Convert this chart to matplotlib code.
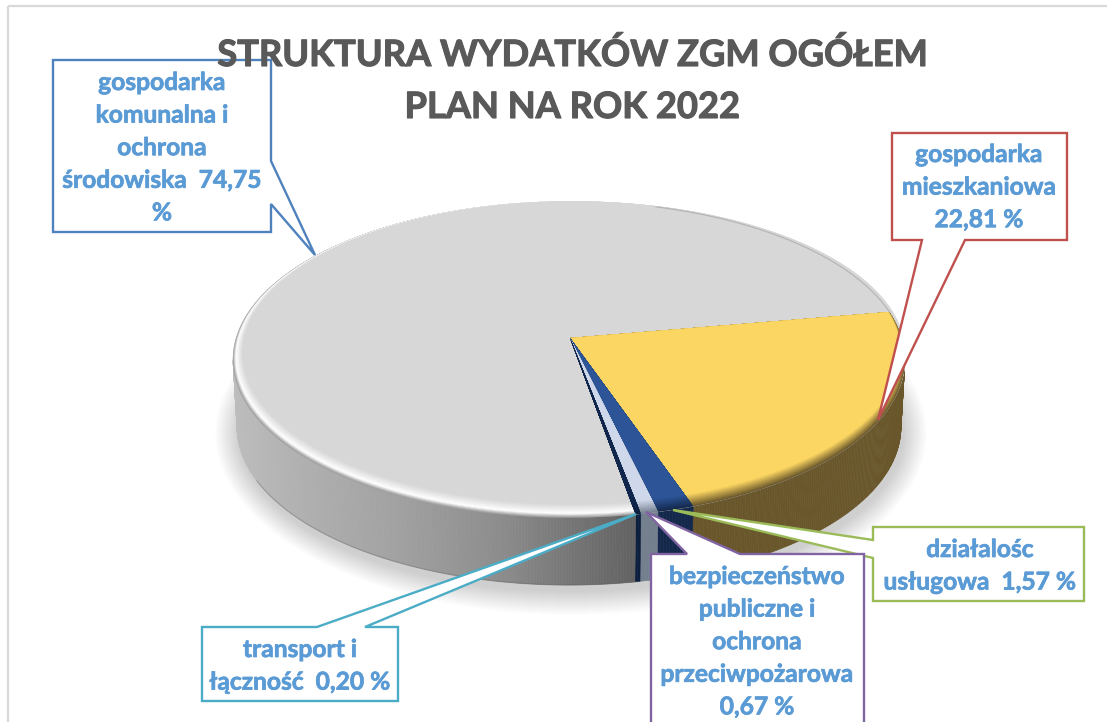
import numpy as np
import matplotlib
matplotlib.use("Agg")
import matplotlib.pyplot as plt
import matplotlib.patheffects as pe
from matplotlib.patches import Polygon, Ellipse
from matplotlib.colors import to_rgb

# ---------- data ----------
categories = ["gospodarka mieszkaniowa", "działalośc usługowa",
              "bezpieczeństwo publiczne i ochrona przeciwpożarowa",
              "transport i łączność", "gospodarka komunalna i ochrona środowiska"]
values = [22.81, 1.57, 0.67, 0.20, 74.75]
title_lines = ["STRUKTURA WYDATKÓW ZGM OGÓŁEM", "PLAN NA ROK 2022"]
label_lines = [
    ["gospodarka", "mieszkaniowa", "22,81 %"],
    ["działalośc", "usługowa  1,57 %"],
    ["bezpieczeństwo", "publiczne i", "ochrona", "przeciwpożarowa", "0,67 %"],
    ["transport i", "łączność  0,20 %"],
    ["gospodarka", "komunalna i", "ochrona", "środowiska  74,75", "%"],
]

# ---------- style / layout ----------
W, H = 1107, 722
FONT = "Lato"
TEXT_BLUE = "#5b9bd5"
CX, CY, A, B = 569, 359.5, 336, 158       # top ellipse
BCX, BCY, BA, BB = 569, 427, 332, 158     # bottom ellipse
APEX = (570, 338)
START = 17.5                               # first slice edge, degrees
persp = [1.045, 1.12, 1.25, 1.25, 1.0]     # sweep stretch from perspective
top_col = ["#fbd663", "#2c5496", "#cfd8ea", "#10264d", "#d7d7d7"]
side_col = ["#69562a", "#14284c", "#747f8e", "#0c1f3f", None]
BOX = [  # x0, x1, y0, y1, colour, text centre x, first line centre y
    (892, 1067, 133, 240, "#c0504d", 979, 155),
    (873, 1084, 527, 601, "#9bbb59", 980, 550),
    (651, 864, 554, 740, "#8064a2", 757, 577),
    (202, 398, 627, 701, "#4bacc6", 300, 650),
    (53, 271, 60, 232, "#4f81bd", 162, 83),
]
PTR = [  # pointer root 1, tip, root 2, clockwise along the box outline
    ((965, 240), (878, 420), (922, 240)),
    ((873, 558), (673, 510), (873, 540)),
    ((687, 554), (646, 512), (740, 554)),
    ((317, 627), (636, 514), (365, 627)),
    ((271, 161), (315, 255), (271, 204)),
]
EDGE = ["bottom", "left", "top", "top", "right"]

fig = plt.figure(figsize=(W / 100, H / 100), dpi=100, facecolor="white")
ax = fig.add_axes([0, 0, 1, 1])
ax.set_xlim(0, W)
ax.set_ylim(H, 0)
ax.axis("off")


def mix(c1, c2, f):
    c1, c2 = np.array(to_rgb(c1)), np.array(to_rgb(c2))
    return tuple(c1 + (c2 - c1) * f)


def arc(t0, t1, cx=CX, cy=CY, a=A, b=B, n=200):
    t = np.radians(np.linspace(t0, t1, n))
    return np.column_stack([cx + a * np.cos(t), cy - b * np.sin(t)])


def grey_side(x):
    v = np.interp(x, [233, 300, 400, 500, 630], [0.74, 0.69, 0.63, 0.55, 0.39])
    return (v, v, v)


# slice angles
sweeps = [v * 3.6 * p for v, p in zip(values, persp)]
edges = [START]
for s in sweeps[:-1]:
    edges.append(edges[-1] - s)
edges.append(START - 360)
spans = [(edges[i], edges[i + 1]) for i in range(len(values))]

# frame
ax.plot([8, 8], [H, 6], color="#d9d9d9", lw=1.6, zorder=0, solid_capstyle="butt")
ax.plot([8, W], [6, 6], color="#d9d9d9", lw=1.6, zorder=0, solid_capstyle="butt")

# soft shadow
for i in range(24):
    g = 24 - i
    ax.add_patch(Ellipse((BCX + 2, BCY + 6), 2 * (BA + g), 2 * (BB + g), fc="k", ec="none",
                         alpha=0.007, zorder=1))

# side wall
for i, (t0, t1) in enumerate(spans):
    lo, hi = max(t1, -180), min(t0, 0)
    if lo >= hi:
        continue
    steps = max(2, int((hi - lo) / 0.5))
    ts = np.linspace(hi, lo, steps + 1)
    for u, v in zip(ts[:-1], ts[1:]):
        tp = arc(u, v, n=3)
        bt = arc(v, u, BCX, BCY, BA, BB, n=3)
        xm = tp[:, 0].mean()
        col = grey_side(xm) if side_col[i] is None else side_col[i]
        ax.add_patch(Polygon(np.vstack([tp, bt]), closed=True, fc=col, ec=col, lw=0.4, zorder=2))

# darker lower edge of the wall
ax.plot(*arc(-160, -78, BCX, BCY, BA, BB).T, color="#555555", lw=0.9, alpha=0.3, zorder=2.5)

# top surface with a bevel: nested ellipses from the side colour to the face colour,
# each slice clipped to its own wedge. The big grey slice goes first, unclipped.
NEST = 16
order = [4, 0, 1, 2, 3]
for rank, i in enumerate(order):
    t0, t1 = spans[i]
    wedge = None
    if side_col[i] is not None:
        wedge = Polygon(np.vstack([[APEX], arc(t0, t1, n=100)]), closed=True,
                        transform=ax.transData, fc="none", ec="none")
    for k in range(NEST + 1):
        f = k / NEST
        d = 12 * f
        if side_col[i] is None:
            col = mix("#9d9d9d", "#ffffff", f / 0.3) if f < 0.3 else mix("#ffffff", top_col[i], (f - 0.3) / 0.7)
            pts = arc(0, 360, CX + 0.4 * d, CY - d * 0.55, A - d * 0.4, B - d * 0.55, n=400)
        else:
            col = mix(side_col[i], top_col[i], f)
            pts = arc(0, 360, CX + 0.2 * d, CY - d * 0.55, A - d * 0.6, B - d * 0.55, n=400)
        p = Polygon(pts, closed=True, fc=col, ec=col, lw=0.3, zorder=3 + rank * 0.01)
        ax.add_patch(p)
        if wedge is not None:
            p.set_clip_path(wedge)

# thin darker rim at the back
ax.plot(*arc(75, 17.5).T, color="#a8a8a8", lw=0.9, alpha=0.7, zorder=3.2)

# callouts
for i, (box, ptr, lines, side) in enumerate(zip(BOX, PTR, label_lines, EDGE)):
    x0, x1, y0, y1, col, tx, ty = box
    if side == "top":
        outline = [(x0, y0), ptr[0], ptr[1], ptr[2], (x1, y0), (x1, y1), (x0, y1)]
    elif side == "bottom":
        outline = [(x0, y0), (x1, y0), (x1, y1), ptr[0], ptr[1], ptr[2], (x0, y1)]
    elif side == "left":
        outline = [(x0, y0), (x1, y0), (x1, y1), (x0, y1), ptr[0], ptr[1], ptr[2]]
    else:
        outline = [(x0, y0), (x1, y0), ptr[0], ptr[1], ptr[2], (x1, y1), (x0, y1)]
    z = 4 + {1: 0, 2: 0.1}.get(i, 0.2)
    ax.add_patch(Polygon(outline, closed=True, fc="white", ec=col, lw=1.7, joinstyle="miter", zorder=z))
    for j, line in enumerate(lines):
        ax.text(tx, ty + j * 32.6 + 7, line, ha="center", va="baseline", color=TEXT_BLUE,
                family=FONT, fontweight="bold", fontsize=17.7, zorder=z + 0.05,
                path_effects=[pe.withStroke(linewidth=0.5, foreground=TEXT_BLUE)])

# title
for j, line in enumerate(title_lines):
    ax.text(572, 66 + j * 52, line, ha="center", va="baseline", color="#595959",
            family=FONT, fontweight="bold", fontsize=26.1, zorder=6,
            path_effects=[pe.withStroke(linewidth=0.8, foreground="#595959")])

fig.savefig("out.png", dpi=100, facecolor="white")
